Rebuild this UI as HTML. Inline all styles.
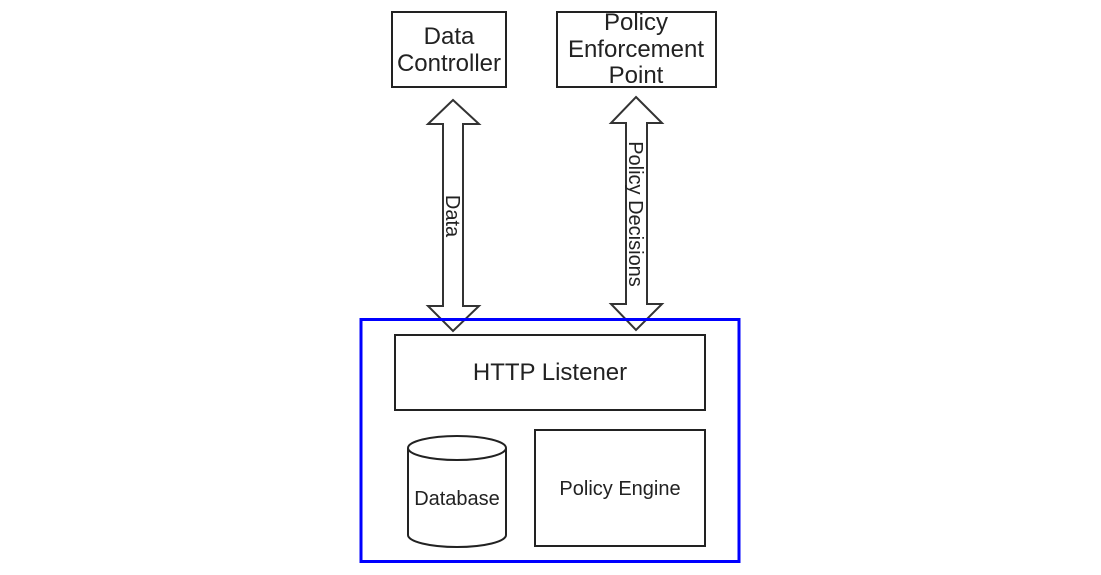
<!DOCTYPE html>
<html><head><style>body{margin:0;background:#fff}svg{display:block}</style></head><body>
<svg width="1101" height="575" xmlns="http://www.w3.org/2000/svg" font-family="Liberation Sans, Arial, sans-serif" fill="#222">
<g fill="#fff" stroke="#222" stroke-width="2">
<rect x="392" y="12" width="114" height="75"/>
<rect x="557" y="12" width="159" height="75"/>
<path d="M453,100 L479,124 L463,124 L463,306 L479,306 L453,331 L428,306 L443,306 L443,124 L428,124 Z" stroke="#333"/>
<path d="M636,97 L662,123 L647,123 L647,304 L662,304 L636,330 L611,304 L626,304 L626,123 L611,123 Z" stroke="#333"/>
</g>
<rect x="361" y="319.5" width="378" height="242" fill="none" stroke="#0000ff" stroke-width="3"/>
<g fill="#fff" stroke="#222" stroke-width="2">
<rect x="395" y="335" width="310" height="75"/>
<rect x="535" y="430" width="170" height="116"/>
<path d="M408,448 L408,535 A49,12 0 0 0 506,535 L506,448 A49,12 0 0 0 408,448 A49,12 0 0 0 506,448"/>
</g>
<g font-size="24" text-anchor="middle" fill="#222">
<text x="449" y="44">Data</text>
<text x="449" y="71">Controller</text>
<text x="636" y="30">Policy</text>
<text x="636" y="57">Enforcement</text>
<text x="636" y="83">Point</text>
<text x="550" y="380">HTTP Listener</text>
</g>
<g font-size="20" text-anchor="middle" fill="#222">
<text x="457" y="505">Database</text>
<text x="620" y="495">Policy Engine</text>
<text transform="translate(446,216) rotate(90)">Data</text>
<text transform="translate(629,214) rotate(90)">Policy Decisions</text>
</g>
</svg>
</body></html>
